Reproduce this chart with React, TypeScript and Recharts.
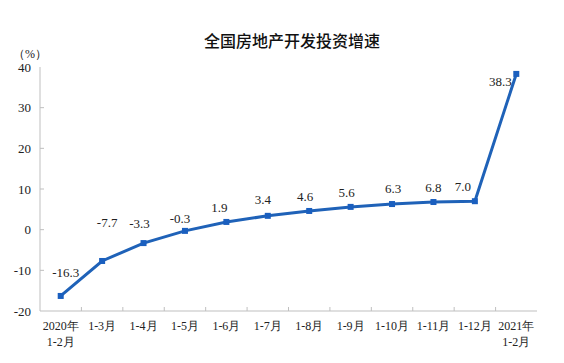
import { LabelList, Line, LineChart, XAxis, YAxis } from 'recharts';

const categories = [
  '2020年\n1-2月',
  '1-3月',
  '1-4月',
  '1-5月',
  '1-6月',
  '1-7月',
  '1-8月',
  '1-9月',
  '1-10月',
  '1-11月',
  '1-12月',
  '2021年\n1-2月',
];
const growth = [-16.3, -7.7, -3.3, -0.3, 1.9, 3.4, 4.6, 5.6, 6.3, 6.8, 7.0, 38.3];
const yTicks = [-20, -10, 0, 10, 20, 30, 40];

// label placement relative to each point (hand placed in the original)
const labelShift: [number, number][] = [
  [5, -23], [5, -38], [-4, -20], [-5, -12], [-7, -14], [-5, -16],
  [-4, -14], [-4, -14], [1, -16], [0, -15], [-12, -15], [-16, 8],
];

const data = categories.map((name, i) => ({ name, value: growth[i] }));

const W = 564;
const H = 363;
const PLOT_LEFT = 40;
const PLOT_RIGHT = 537;
const BAND = (PLOT_RIGHT - PLOT_LEFT) / categories.length;
const BLUE = '#1f62b8';
const AXIS = '#bfbfbf';
const SERIF = "'Liberation Serif', 'Times New Roman', serif";

function YTick(props: any) {
  const { x, y, payload } = props;
  return (
    <g>
      {payload.value !== -20 && payload.value !== 40 && (
        <line x1={PLOT_LEFT} x2={PLOT_LEFT + 4} y1={y} y2={y} stroke={AXIS} />
      )}
      <text x={x} y={y} dy={4.5} textAnchor="end" fontSize={13} fontFamily={SERIF} fill="#222">
        {payload.value}
      </text>
    </g>
  );
}

function XTick(props: any) {
  const { x, y, payload, index } = props;
  const lines = String(payload.value).split('\n');
  return (
    <g>
      {index < categories.length - 1 && (
        <line x1={x + BAND / 2} x2={x + BAND / 2} y1={y - 8} y2={y - 12} stroke={AXIS} />
      )}
      {lines.map((t, i) => (
        <text key={i} x={x} y={y + 11 + i * 16} textAnchor="middle" fontSize={12} fontFamily={SERIF} fill="#222">
          {t}
        </text>
      ))}
    </g>
  );
}

function Dot(props: any) {
  const { cx, cy } = props;
  return <rect x={cx - 3} y={cy - 3} width={6} height={6} fill="#1a5fbf" />;
}

function ValueLabel(props: any) {
  const { x, y, value, index } = props;
  const [dx, dy] = labelShift[index] || [0, -14];
  return (
    <text x={x + dx} y={y + dy} dy={4.5} textAnchor="middle" fontSize={13} fontFamily={SERIF} fill="#222">
      {Number(value).toFixed(1)}
    </text>
  );
}

export default function App() {
  return (
    <div style={{ position: 'absolute', left: 0, top: 0, width: W, height: H, background: '#fff' }}>
      <div
        style={{
          position: 'absolute',
          left: 0,
          width: W,
          top: 28,
          textAlign: 'center',
          paddingLeft: 20,
          boxSizing: 'border-box',
          fontFamily: "'Noto Sans CJK SC', sans-serif",
          fontSize: 16,
          fontWeight: 500,
          color: '#111',
        }}
      >
        全国房地产开发投资增速
      </div>
      <div style={{ position: 'absolute', left: 13, top: 46, fontFamily: SERIF, fontSize: 12, color: '#222' }}>
        （%）
      </div>
      <LineChart width={W} height={H} data={data} margin={{ top: 67, right: W - PLOT_RIGHT, bottom: 0, left: 0 }}>
        <XAxis
          dataKey="name"
          interval={0}
          height={52}
          stroke={AXIS}
          padding={{ left: BAND / 2, right: BAND / 2 }}
          tickLine={false}
          tickSize={0}
          tickMargin={8}
          tick={<XTick />}
        />
        <XAxis xAxisId="top" orientation="top" height={0} stroke={AXIS} tick={false} tickLine={false} />
        <YAxis
          domain={[-20, 40]}
          ticks={yTicks}
          width={PLOT_LEFT}
          stroke={AXIS}
          tickLine={false}
          tickSize={0}
          tickMargin={9}
          tick={<YTick />}
        />
        <YAxis yAxisId="right" orientation="right" width={0} stroke={AXIS} tick={false} tickLine={false} />
        <Line
          dataKey="value"
          stroke={BLUE}
          strokeWidth={3}
          dot={<Dot />}
          activeDot={false}
          isAnimationActive={false}
        >
          <LabelList dataKey="value" content={<ValueLabel />} />
        </Line>
      </LineChart>
    </div>
  );
}
